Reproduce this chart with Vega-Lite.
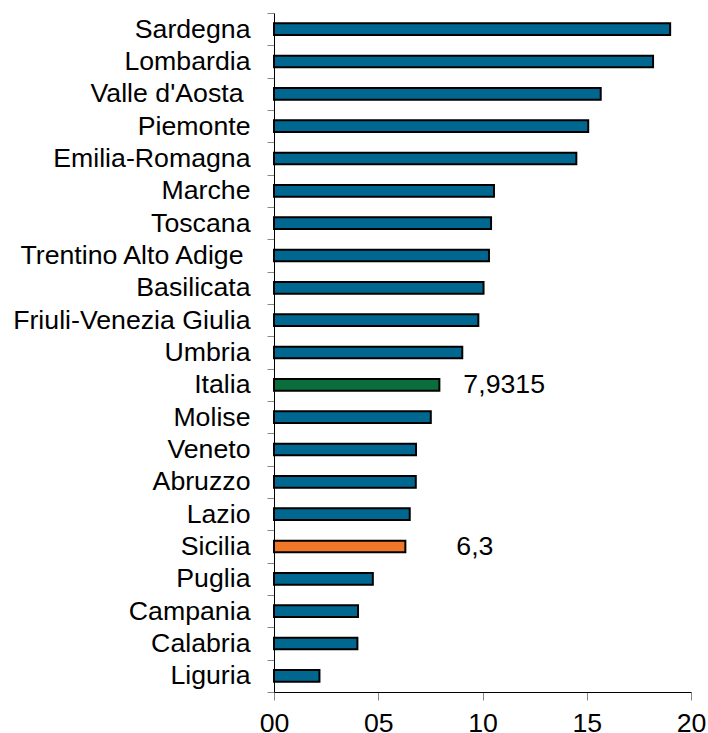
{
  "$schema": "https://vega.github.io/schema/vega-lite/v6.json",
  "width": 417,
  "height": 679,
  "autosize": "none",
  "padding": {"left": 274, "top": 13, "right": 17, "bottom": 41},
  "background": "white",
  "config": {"view": {"stroke": null}, "font": "Liberation Sans"},
  "data": {
    "values": [
      {"regione": "Sardegna", "valore": 19.0, "tipo": "regione", "label": ""},
      {"regione": "Lombardia", "valore": 18.18, "tipo": "regione", "label": ""},
      {"regione": "Valle d'Aosta", "valore": 15.67, "tipo": "regione", "label": ""},
      {"regione": "Piemonte", "valore": 15.07, "tipo": "regione", "label": ""},
      {"regione": "Emilia-Romagna", "valore": 14.5, "tipo": "regione", "label": ""},
      {"regione": "Marche", "valore": 10.55, "tipo": "regione", "label": ""},
      {"regione": "Toscana", "valore": 10.41, "tipo": "regione", "label": ""},
      {"regione": "Trentino Alto Adige", "valore": 10.31, "tipo": "regione", "label": ""},
      {"regione": "Basilicata", "valore": 10.05, "tipo": "regione", "label": ""},
      {"regione": "Friuli-Venezia Giulia", "valore": 9.8, "tipo": "regione", "label": ""},
      {"regione": "Umbria", "valore": 9.03, "tipo": "regione", "label": ""},
      {"regione": "Italia", "valore": 7.9315, "tipo": "italia", "label": "7,9315"},
      {"regione": "Molise", "valore": 7.52, "tipo": "regione", "label": ""},
      {"regione": "Veneto", "valore": 6.81, "tipo": "regione", "label": ""},
      {"regione": "Abruzzo", "valore": 6.8, "tipo": "regione", "label": ""},
      {"regione": "Lazio", "valore": 6.51, "tipo": "regione", "label": ""},
      {"regione": "Sicilia", "valore": 6.3, "tipo": "sicilia", "label": "6,3"},
      {"regione": "Puglia", "valore": 4.74, "tipo": "regione", "label": ""},
      {"regione": "Campania", "valore": 4.03, "tipo": "regione", "label": ""},
      {"regione": "Calabria", "valore": 4.0, "tipo": "regione", "label": ""},
      {"regione": "Liguria", "valore": 2.18, "tipo": "regione", "label": ""}
    ]
  },
  "encoding": {
    "y": {
      "field": "regione",
      "type": "nominal",
      "sort": null,
      "scale": {"paddingInner": 0, "paddingOuter": 0},
      "axis": {
        "title": null,
        "tickBand": "extent",
        "domainColor": "black",
        "domainWidth": 1,
        "tickColor": "#888888",
        "tickSize": 7,
        "labelPadding": {"condition": {"test": "datum.value == 'Valle d\\'Aosta' || datum.value == 'Trentino Alto Adige'", "value": 24}, "value": 17},
        "labelFontSize": 26.7,
        "labelColor": "black",
        "labelFont": "Liberation Sans",
        "labelLimit": 300
      }
    },
    "x": {
      "field": "valore",
      "type": "quantitative",
      "scale": {"domain": [0, 20], "nice": false},
      "axis": {
        "title": null,
        "grid": false,
        "values": [0, 5, 10, 15, 20],
        "labelExpr": "datum.value < 10 ? '0' + datum.value : '' + datum.value",
        "domainColor": "black",
        "domainWidth": 1,
        "tickColor": "#888888",
        "tickSize": 8,
        "labelPadding": 31,
        "labelBaseline": "alphabetic",
        "labelFontSize": 26.7,
        "labelColor": "black",
        "labelFont": "Liberation Sans",
        "labelFlush": false
      }
    }
  },
  "layer": [
    {
      "mark": {"type": "bar", "height": {"band": 0.36}, "stroke": "black", "strokeWidth": 2},
      "encoding": {
        "color": {
          "field": "tipo",
          "type": "nominal",
          "scale": {"domain": ["regione", "italia", "sicilia"], "range": ["#006890", "#0A6E3C", "#F07628"]},
          "legend": null
        }
      }
    },
    {
      "transform": [{"filter": "datum.tipo == 'italia'"}],
      "mark": {"type": "text", "align": "left", "baseline": "middle", "dx": 24, "fontSize": 26.7, "font": "Liberation Sans", "color": "black"},
      "encoding": {"text": {"field": "label"}}
    },
    {
      "transform": [{"filter": "datum.tipo == 'sicilia'"}],
      "mark": {"type": "text", "align": "left", "baseline": "middle", "dx": 51, "fontSize": 26.7, "font": "Liberation Sans", "color": "black"},
      "encoding": {"text": {"field": "label"}}
    }
  ]
}
